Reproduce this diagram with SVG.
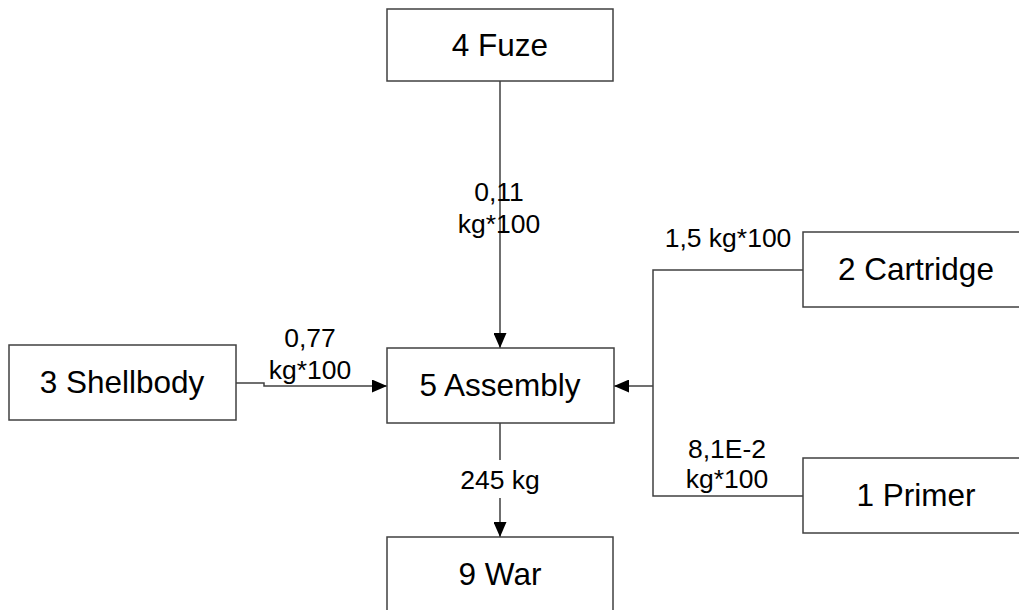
<svg xmlns="http://www.w3.org/2000/svg" width="1019" height="610" viewBox="0 0 1019 610">
<defs>
<style>
.box{fill:#fff;stroke:#404040;stroke-width:1.5}
.nt{font-family:"Liberation Sans",Arial,sans-serif;font-size:31.5px;fill:#000;text-anchor:middle}
.lt{font-family:"Liberation Sans",Arial,sans-serif;font-size:26.5px;fill:#000;text-anchor:middle}
.ln{fill:none;stroke:#404040;stroke-width:1.5}
</style>
<marker id="arr" viewBox="0 0 15 13" refX="15" refY="6.5" markerWidth="15" markerHeight="13" markerUnits="userSpaceOnUse" orient="auto">
<path d="M0,0 L15,6.5 L0,13 Z" fill="#000"/>
</marker>
</defs>
<rect width="1019" height="610" fill="#fff"/>
<g id="connectors">
<path class="ln" d="M500,81 V348" marker-end="url(#arr)"/>
<path class="ln" d="M236,383 H264 V386 H387" marker-end="url(#arr)"/>
<path class="ln" d="M803,270 H653 V496 H803"/>
<path class="ln" d="M653,386 H614" marker-end="url(#arr)"/>
<path class="ln" d="M500,423 V460 M500,498 V537" marker-end="url(#arr)"/>
<text class="lt" x="499" y="201">0,11</text>
<text class="lt" x="499" y="233">kg*100</text>
<text class="lt" x="310" y="347">0,77</text>
<text class="lt" x="310" y="379">kg*100</text>
<text class="lt" x="728" y="247">1,5 kg*100</text>
<text class="lt" x="727" y="458">8,1E-2</text>
<text class="lt" x="727" y="488">kg*100</text>
<text class="lt" x="500" y="489">245 kg</text>
</g>
<g id="n4"><rect class="box" x="387" y="9" width="226" height="72"/><text class="nt" x="500" y="56">4 Fuze</text></g>
<g id="n5"><rect class="box" x="387" y="348" width="227" height="75"/><text class="nt" x="500" y="396">5 Assembly</text></g>
<g id="n3"><rect class="box" x="9" y="345" width="227" height="75"/><text class="nt" x="122" y="393">3 Shellbody</text></g>
<g id="n2"><rect class="box" x="803" y="232" width="226" height="75"/><text class="nt" x="916" y="280">2 Cartridge</text></g>
<g id="n1"><rect class="box" x="803" y="458" width="226" height="75"/><text class="nt" x="916" y="506">1 Primer</text></g>
<g id="n9"><rect class="box" x="387" y="537" width="226" height="80"/><text class="nt" x="500" y="585">9 War</text></g>
</svg>
